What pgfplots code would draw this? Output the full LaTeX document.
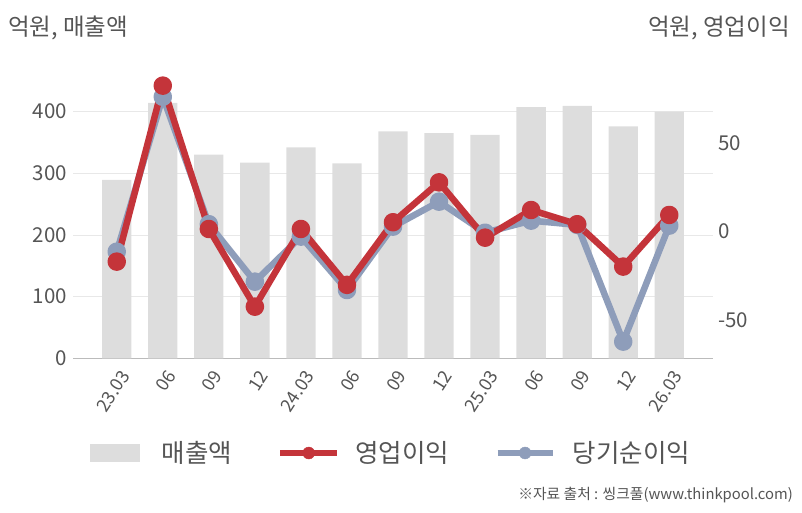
\documentclass[border=0pt]{standalone}
\usepackage{fontspec}
\setmainfont{Noto Sans CJK KR}
\usepackage{pgfplots}
\pgfplotsset{compat=1.18}
\definecolor{barc}{HTML}{DDDDDD}
\definecolor{redc}{HTML}{C4343A}
\definecolor{bluec}{HTML}{8E9DBA}
\definecolor{txt}{HTML}{555555}
\definecolor{gridc}{HTML}{E8E8E8}
\definecolor{axc}{HTML}{BBBBBB}
\begin{document}
\begin{tikzpicture}[x=1pt,y=1pt]
\useasboundingbox (0,0) rectangle (802,512);
\pgfplotsset{
  common/.style={
    scale only axis, width=640pt, height=298.3pt,
    at={(73pt,153.7pt)}, anchor=south west,
    xmin=-0.95, xmax=12.95,
    major tick length=0pt,
    /pgf/number format/assume math mode=true,
    tick label style={text=txt},
  }
}
\begin{axis}[common,
  ymin=0, ymax=483.5,
  axis x line*=bottom, axis y line*=left,
  y axis line style={draw=none},
  x axis line style={draw=axc, line width=1pt, -},
  ytick={0,100,200,300,400},
  ymajorgrids, grid style={gridc, line width=0.8pt},
  yticklabel style={font=\fontsize{20.5}{20.5}\selectfont, anchor=east, inner sep=0pt, xshift=-6pt},
  xtick={0,...,12},
  xticklabels={23.03,06,09,12,24.03,06,09,12,25.03,06,09,12,26.03},
  xticklabel style={font=\fontsize{18}{18}\selectfont, inner sep=0pt, xshift=3pt, yshift=-10pt, rotate=57, anchor=north east},
]
\addplot[ybar, bar width=29.3pt, fill=barc, draw=none] coordinates {
(0,289) (1,414) (2,330) (3,317) (4,342) (5,316) (6,368) (7,365) (8,362) (9,407) (10,409) (11,376) (12,400)};
\end{axis}
\begin{axis}[common,
  ymin=-71.4, ymax=96.75,
  axis x line=none, axis y line*=right,
  y axis line style={draw=none},
  ytick={-50,0,50},
  yticklabel style={font=\fontsize{20.5}{20.5}\selectfont, anchor=west, inner sep=0pt, xshift=5pt},
  legend columns=3,
  legend cell align=left,
  legend style={at={(axis description cs:0.0266,-0.3175)}, anchor=west, draw=none, fill=none,
    font=\fontsize{25.5}{25.5}\selectfont, text=txt, inner sep=0pt,
    nodes={inner sep=0pt},
    /tikz/column 1/.style={column sep=22pt},
    /tikz/column 2/.style={column sep=45pt},
    /tikz/column 3/.style={column sep=15pt},
    /tikz/column 4/.style={column sep=45pt},
    /tikz/column 5/.style={column sep=17pt}},
]
\addlegendimage{legend image code/.code={\fill[barc] (0pt,-8.5pt) rectangle (49pt,8.5pt);}}
\addlegendentry{매출액}
\addplot[bluec, line width=6.5pt, line join=round, mark=*, mark size=6pt, mark options={fill=bluec, draw=none},
  forget plot] coordinates {
(0,-11.3) (1,76) (2,4.2) (3,-28.2) (4,-2.8) (5,-32.9) (6,2.8) (7,16.9) (8,-0.6) (9,6.2) (10,3.8) (11,-62) (12,3.4)};
\addlegendimage{legend image code/.code={\draw[redc, line width=6.5pt] (0pt,0pt)--(57pt,0pt); \fill[redc] (28.5pt,0pt) circle (6pt);}}
\addlegendentry{영업이익}
\addlegendimage{legend image code/.code={\draw[bluec, line width=6.5pt] (0pt,0pt)--(55pt,0pt); \fill[bluec] (27.5pt,0pt) circle (6pt);}}
\addlegendentry{당기순이익}
\addplot[redc, line width=6.5pt, line join=round, mark=*, mark size=6pt, mark options={fill=redc, draw=none},
  forget plot] coordinates {
(0,-16.9) (1,82.3) (2,1.5) (3,-42.3) (4,1.5) (5,-30) (6,5.3) (7,27.8) (8,-3.4) (9,12.2) (10,4.2) (11,-19.7) (12,9.4)};
\end{axis}
\node[anchor=west, inner sep=0pt, text=txt, font=\fontsize{23.5}{23.5}\selectfont] at (8,484) {억원, 매출액};
\node[anchor=east, inner sep=0pt, text=txt, font=\fontsize{23.5}{23.5}\selectfont] at (790,484) {억원, 영업이익};
\node[anchor=east, inner sep=0pt, text=txt, font=\fontsize{14.8}{14.8}\selectfont] at (793,17) {※자료 출처 : 씽크풀(www.thinkpool.com)};
\end{tikzpicture}
\end{document}
